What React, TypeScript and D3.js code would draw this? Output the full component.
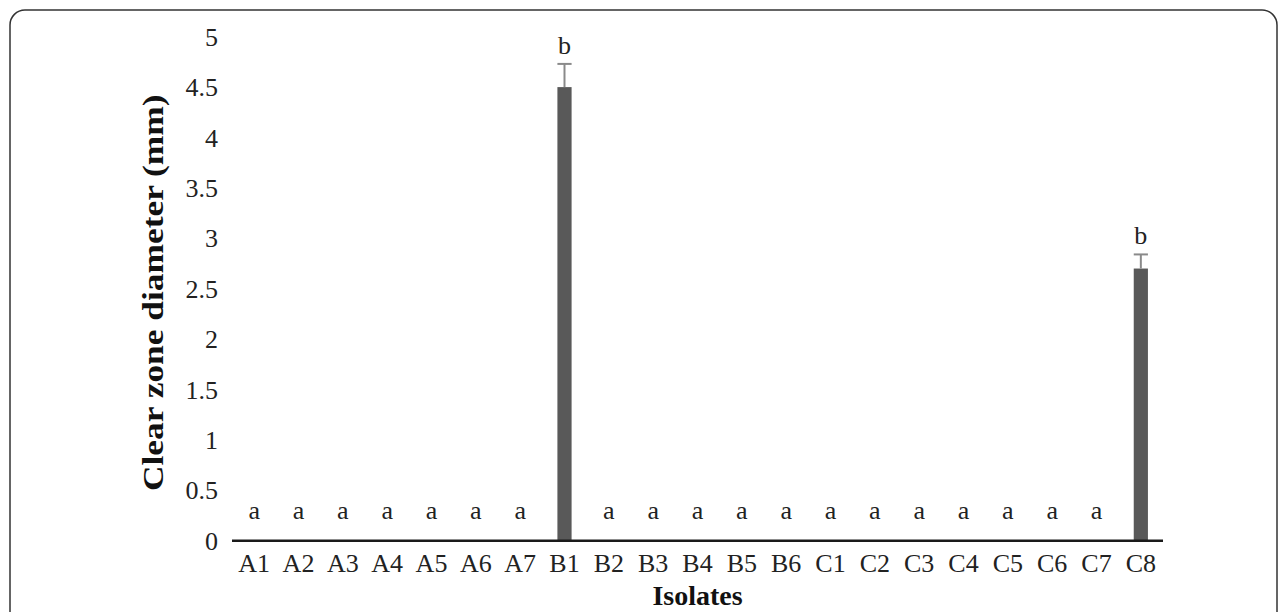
import React from "react";
import * as d3 from "d3";

// isolates along the x axis
const categories = [
  "A1", "A2", "A3", "A4", "A5", "A6", "A7",
  "B1", "B2", "B3", "B4", "B5", "B6",
  "C1", "C2", "C3", "C4", "C5", "C6", "C7", "C8",
];
// clear zone diameter (mm)
const values = [0, 0, 0, 0, 0, 0, 0, 4.5, 0, 0, 0, 0, 0, 0, 0, 0, 0, 0, 0, 0, 2.7];
// standard error
const errors = [0, 0, 0, 0, 0, 0, 0, 0.23, 0, 0, 0, 0, 0, 0, 0, 0, 0, 0, 0, 0, 0.14];
// significance letters
const letters = [
  "a", "a", "a", "a", "a", "a", "a",
  "b", "a", "a", "a", "a", "a",
  "a", "a", "a", "a", "a", "a", "a", "b",
];
const yTicks = [0, 0.5, 1, 1.5, 2, 2.5, 3, 3.5, 4, 4.5, 5];

const W = 1287;
const H = 612;
const FONT = "'Liberation Serif', 'Times New Roman', serif";

export default function App() {
  const x = d3
    .scaleBand<string>()
    .domain(categories)
    .range([232, 1163])
    .paddingInner(0.68)
    .paddingOuter(0.34);
  const y = d3.scaleLinear().domain([0, 5]).range([540.7, 36.7]);
  const fmt = d3.format("~g");
  const bw = x.bandwidth();

  return (
    <svg
      width={W}
      height={H}
      style={{ position: "absolute", left: 0, top: 0, background: "#fff" }}
      fontFamily={FONT}
    >
      {/* frame */}
      <rect x={10} y={10} width={1267} height={640} rx={15} ry={15}
        fill="none" stroke="#333" strokeWidth={1.5} />

      {/* y tick labels */}
      {yTicks.map((t) => (
        <text key={t} x={218} y={y(t)} dy="0.35em" textAnchor="end"
          fontSize={26} fill="#222">{fmt(t)}</text>
      ))}

      {/* bars */}
      {categories.map((c, i) =>
        values[i] > 0 ? (
          <rect key={c} x={x(c)} y={y(values[i])} width={bw}
            height={y(0) - y(values[i])} fill="#595959" />
        ) : null
      )}

      {/* error bars */}
      {categories.map((c, i) => {
        if (errors[i] <= 0) return null;
        const cx = (x(c) as number) + bw / 2;
        const top = y(values[i] + errors[i]);
        return (
          <g key={c} stroke="#8a8a8a" strokeWidth={2}>
            <line x1={cx} x2={cx} y1={y(values[i])} y2={top} />
            <line x1={cx - bw / 2} x2={cx + bw / 2} y1={top} y2={top} />
          </g>
        );
      })}

      {/* letters */}
      {categories.map((c, i) => (
        <text key={c} x={(x(c) as number) + bw / 2}
          y={y(values[i] + errors[i]) - (values[i] > 0 ? 10 : 22)}
          textAnchor="middle" fontSize={26} fill="#222">{letters[i]}</text>
      ))}

      {/* x axis */}
      <line x1={232} x2={1163} y1={y(0)} y2={y(0)} stroke="#1a1a1a" strokeWidth={2.5} />
      {categories.map((c) => (
        <text key={c} x={(x(c) as number) + bw / 2} y={572} textAnchor="middle"
          fontSize={26} fill="#222">{c}</text>
      ))}

      {/* axis titles */}
      <text x={697.5} y={605} textAnchor="middle" fontSize={28} fontWeight="bold"
        fill="#111">Isolates</text>
      <text transform={`translate(163, ${(y(0) + y(5)) / 2 + 4}) rotate(-90) scale(1.18, 1)`}
        textAnchor="middle" fontSize={30} fontWeight="bold" fill="#111">
        Clear zone diameter (mm)
      </text>
    </svg>
  );
}
